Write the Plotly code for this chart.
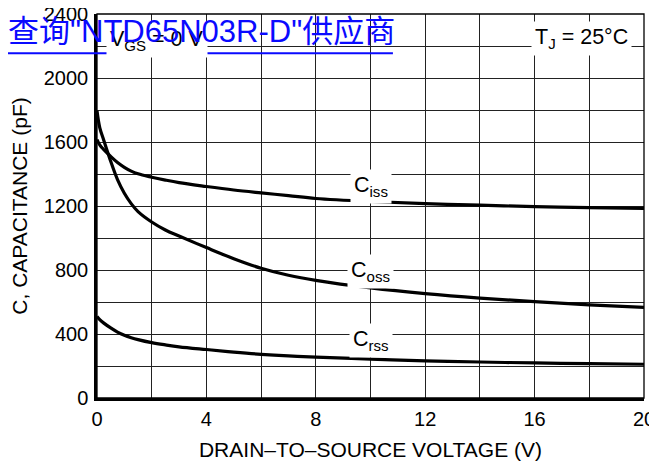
import plotly.graph_objects as go

# Drain-to-source voltage (V)
vds = [0, 0.1, 0.25, 0.5, 0.75, 1, 1.25, 1.5, 2, 2.5, 3, 4, 5, 6, 7, 8, 10, 12, 14, 16, 18, 20]
# Capacitances (pF)
ciss = [1615, 1582, 1552, 1510, 1472, 1442, 1418, 1401, 1380, 1362, 1346, 1322, 1300, 1282, 1265, 1247, 1228, 1215, 1205, 1196, 1190, 1185]
coss = [1795, 1690, 1610, 1480, 1365, 1280, 1215, 1165, 1100, 1050, 1012, 940, 871, 811, 767, 735, 688, 652, 624, 602, 582, 566]
crss = [510, 490, 468, 438, 412, 392, 377, 365, 346, 332, 320, 303, 287, 273, 263, 256, 243, 232, 225, 219, 215, 211]

x_ticks = [0, 4, 8, 12, 16, 20]
y_ticks = [0, 400, 800, 1200, 1600, 2000, 2400]

FONT = "Liberation Sans, Arial, Helvetica, sans-serif"

fig = go.Figure()
for name, vals in [("Ciss", ciss), ("Coss", coss), ("Crss", crss)]:
    fig.add_trace(go.Scatter(x=vds, y=vals, mode="lines", name=name,
                             line=dict(color="black", width=3.2, shape="spline", smoothing=1.0),
                             showlegend=False, hoverinfo="skip"))

grid_col = "#222222"
fig.update_xaxes(range=[0, 20], tickvals=x_ticks, showgrid=True, gridcolor=grid_col, gridwidth=1,
                 minor=dict(dtick=2, showgrid=True, gridcolor=grid_col, gridwidth=1),
                 showline=True, linecolor="black", linewidth=2.5, zeroline=False,
                 ticks="", ticklabelstandoff=1, automargin=False, ticklabeloverflow="allow",
                 tickfont=dict(family=FONT, size=20, color="black"),
                 title=dict(text="DRAIN–TO–SOURCE VOLTAGE (V)", standoff=14,
                            font=dict(family=FONT, size=21, color="black")))
fig.update_yaxes(range=[0, 2400], tickvals=y_ticks, showgrid=True, gridcolor=grid_col, gridwidth=1,
                 minor=dict(dtick=200, showgrid=True, gridcolor=grid_col, gridwidth=1),
                 showline=True, linecolor="black", linewidth=2.5, zeroline=False,
                 ticks="", ticklabelstandoff=2, automargin=False, ticklabeloverflow="allow",
                 tickfont=dict(family=FONT, size=20, color="black"),
                 title=dict(text="C, CAPACITANCE (pF)", standoff=17,
                            font=dict(family=FONT, size=21, color="black")))

ann_font = dict(family=FONT, size=21.5, color="black")
labels = [("C<sub>iss</sub>", 10, 1320), ("C<sub>oss</sub>", 10, 788), ("C<sub>rss</sub>", 10, 361),
          ("V<sub>GS</sub> = 0 V", 2.2, 2237), ("T<sub>J</sub> = 25°C", 17.72, 2245)]
annotations = []
for txt, xv, yv in labels:
    annotations.append(dict(text=txt, x=xv, y=yv, xref="x", yref="y", showarrow=False,
                            bgcolor="white", borderpad=3, font=ann_font))
# overlay watermark link text
annotations.append(dict(text='查询"NTD65N03R-D"供应商', x=-0.167, y=0.954, xref="paper", yref="paper",
                        xanchor="left", yanchor="middle", showarrow=False,
                        font=dict(family="Liberation Sans, Arial, Noto Sans CJK SC", size=31, color="#0a0aff")))

shapes = [
    # thin frame on top and right (the left and bottom are the thick axis lines)
    dict(type="rect", xref="paper", yref="paper", x0=0, x1=1, y0=0, y1=1,
         line=dict(color="black", width=1.3), layer="above"),
    # watermark underline
    dict(type="line", xref="paper", yref="paper", x0=-0.1627, x1=0.541,
         y0=0.8977, y1=0.8977, line=dict(color="#0a0aff", width=2)),
]

# page body has an 8px margin: figure is drawn 8px in from the window's top-left
fig.update_layout(width=649, height=454, margin=dict(l=89, r=13, t=6, b=64, autoexpand=False),
                  plot_bgcolor="white", paper_bgcolor="white", annotations=annotations,
                  shapes=shapes)

fig.write_html("out.html")
